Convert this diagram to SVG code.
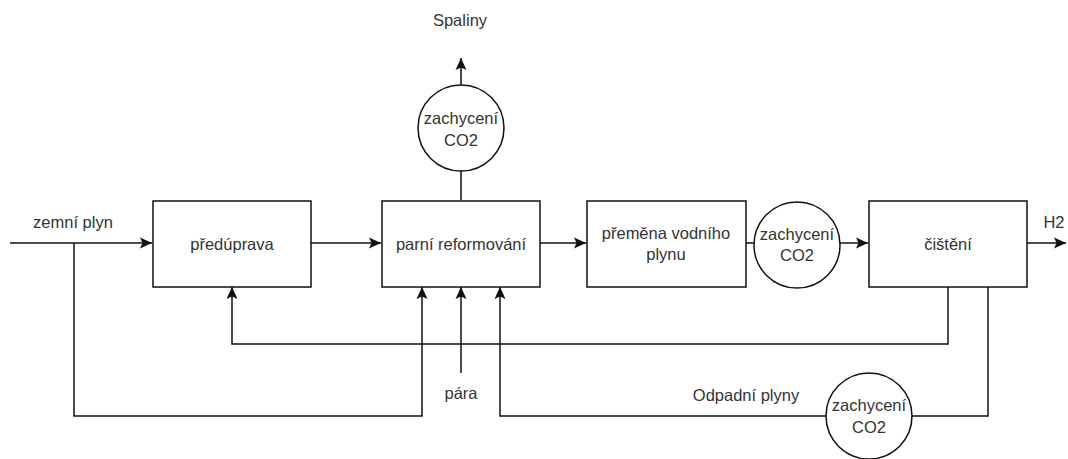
<svg xmlns="http://www.w3.org/2000/svg" width="1068" height="459" viewBox="0 0 1068 459">
<style>
.box{fill:#fff;stroke:#111;stroke-width:1.5}
.c{fill:#fff;stroke:#111;stroke-width:1.5}
.e{fill:none;stroke:#111;stroke-width:1.5}
.t{font-family:"Liberation Sans",Arial,sans-serif;font-size:16.5px;fill:#333;text-anchor:middle;dominant-baseline:central}
</style>
<defs>
<marker id="a" markerUnits="userSpaceOnUse" markerWidth="13" markerHeight="13" viewBox="0 0 13 13" refX="12" refY="6" orient="auto">
<path d="M0,0.5 L12,6 L0,11.5 L2.5,6 Z" fill="#111"/>
</marker>
</defs>
<rect width="1068" height="459" fill="#fff"/>
<g id="connectors">
<path class="e" d="M10,243 H152" marker-end="url(#a)"/>
<path class="e" d="M74,243 V416 H422 V287" marker-end="url(#a)"/>
<path class="e" d="M311,243 H381" marker-end="url(#a)"/>
<path class="e" d="M540,243 H586" marker-end="url(#a)"/>
<path class="e" d="M746,243 H754"/>
<path class="e" d="M840,243 H868" marker-end="url(#a)"/>
<path class="e" d="M1027,243 H1066" marker-end="url(#a)"/>
<path class="e" d="M461,200 V171"/>
<path class="e" d="M461,85 V58" marker-end="url(#a)"/>
<path class="e" d="M948,287 V344 H232 V287" marker-end="url(#a)"/>
<path class="e" d="M988,287 V416 H912"/>
<path class="e" d="M826,416 H500 V287" marker-end="url(#a)"/>
<path class="e" d="M461,373 V287" marker-end="url(#a)"/>
</g>
<g id="preduprava">
<rect class="box" x="153" y="201" width="158" height="86"/>
<text class="t" x="232" y="244">předúprava</text>
</g>
<g id="parni-reformovani">
<rect class="box" x="382" y="201" width="158" height="86"/>
<text class="t" x="461" y="244">parní reformování</text>
</g>
<g id="premena">
<rect class="box" x="587" y="201" width="159" height="86"/>
<text class="t" x="666" y="233">přeměna vodního</text>
<text class="t" x="666" y="254">plynu</text>
</g>
<g id="cisteni">
<rect class="box" x="869" y="201" width="158" height="86"/>
<text class="t" x="948" y="244">čištění</text>
</g>
<g id="zachyceni-top">
<circle class="c" cx="461" cy="128" r="43"/>
<text class="t" x="461" y="118">zachycení</text>
<text class="t" x="461" y="140">CO2</text>
</g>
<g id="zachyceni-mid">
<circle class="c" cx="797" cy="245" r="43"/>
<text class="t" x="797" y="234">zachycení</text>
<text class="t" x="797" y="255">CO2</text>
</g>
<g id="zachyceni-bottom">
<circle class="c" cx="869" cy="416" r="43"/>
<text class="t" x="869" y="405">zachycení</text>
<text class="t" x="869" y="427">CO2</text>
</g>
<g id="labels">
<text class="t" x="73" y="222">zemní plyn</text>
<text class="t" x="460" y="20">Spaliny</text>
<text class="t" x="1054" y="222">H2</text>
<text class="t" x="461" y="393">pára</text>
<text class="t" x="746" y="395">Odpadní plyny</text>
</g>
</svg>
